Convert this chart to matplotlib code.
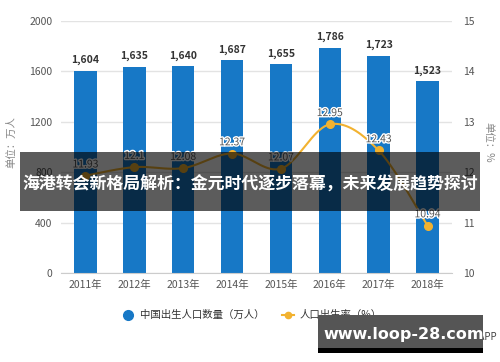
import numpy as np
import matplotlib
matplotlib.use("Agg")
import matplotlib.pyplot as plt
import matplotlib.patheffects as pe
from matplotlib.patches import Rectangle
from matplotlib.lines import Line2D

plt.rcParams['font.family'] = ['Noto Sans CJK SC', 'DejaVu Sans']

years = ['2011年', '2012年', '2013年', '2014年', '2015年', '2016年', '2017年', '2018年']
births = [1604, 1635, 1640, 1687, 1655, 1786, 1723, 1523]
rate = [11.93, 12.1, 12.08, 12.37, 12.07, 12.95, 12.43, 10.94]
rate_labels = ['11.93', '12.1', '12.08', '12.37', '12.07', '12.95', '12.43', '10.94']
left_ticks = [0, 400, 800, 1200, 1600, 2000]
right_ticks = [10, 11, 12, 13, 14, 15]
title = '海港转会新格局解析：金元时代逐步落幕，未来发展趋势探讨'
legend_bar = '中国出生人口数量（万人）'
legend_line = '人口出生率（%）'

BLUE = '#1778c6'
GOLD = '#f2b230'

fig = plt.figure(figsize=(5, 3.62), dpi=100)
ax = fig.add_axes([0.122, 0.246, 0.782, 0.696])
ax2 = ax.twinx()

x = np.arange(len(years))
ax.bar(x, births, width=0.46, color=BLUE, zorder=2)
for xi, v in zip(x, births):
    ax.annotate(f'{v:,}', (xi, v), xytext=(0, 4), textcoords='offset points',
                ha='center', va='bottom', fontsize=7.5, fontweight='bold', color='#333333')

ax.set_ylim(0, 2000)
ax.set_yticks(left_ticks)
ax.set_xlim(-0.5, len(years) - 0.5)
ax.set_xticks(x)
ax.set_xticklabels(years)
ax.grid(axis='y', color='#e3e3e3', linewidth=1, zorder=0)
ax.set_axisbelow(True)
for s in ['top', 'right', 'left']:
    ax.spines[s].set_visible(False)
ax.spines['bottom'].set_color('#cccccc')
ax.tick_params(axis='y', length=0, labelsize=7.5, labelcolor='#555555', pad=6)
ax.tick_params(axis='x', length=0, labelsize=7.5, labelcolor='#555555', pad=5)
ax.set_ylabel('单位：万人', fontsize=7.5, color='#888888', labelpad=4)
ax.yaxis.set_label_coords(-0.115, 0.52)

# smooth line (Catmull-Rom through data points)
def catmull(xs, ys, n=20):
    xs = np.asarray(xs, float); ys = np.asarray(ys, float)
    px = np.concatenate([[xs[0]], xs, [xs[-1]]])
    py = np.concatenate([[ys[0]], ys, [ys[-1]]])
    ox, oy = [], []
    t = np.linspace(0, 1, n)
    for i in range(1, len(px) - 2):
        p0, p1, p2, p3 = (px[i-1], py[i-1]), (px[i], py[i]), (px[i+1], py[i+1]), (px[i+2], py[i+2])
        for a, b, c, d, out in [(p0[0], p1[0], p2[0], p3[0], ox), (p0[1], p1[1], p2[1], p3[1], oy)]:
            out.extend(0.5 * ((2*b) + (-a + c)*t + (2*a - 5*b + 4*c - d)*t**2 + (-a + 3*b - 3*c + d)*t**3))
    return np.array(ox), np.array(oy)

sx, sy = catmull(x, rate)
ax2.plot(sx, sy, color=GOLD, linewidth=1.5, zorder=3)
ax2.plot(x, rate, 'o', color=GOLD, markersize=5.5, zorder=4)
for xi, v, lab in zip(x, rate, rate_labels):
    ax2.annotate(lab, (xi, v), xytext=(0, 4.5), textcoords='offset points', ha='center', va='bottom',
                 fontsize=7.5, color='#555555',
                 path_effects=[pe.withStroke(linewidth=2, foreground='white')], zorder=5)
ax2.set_ylim(10, 15)
ax2.set_yticks(right_ticks)
for s in ['top', 'right', 'left', 'bottom']:
    ax2.spines[s].set_visible(False)
ax2.tick_params(axis='y', length=0, labelsize=7.5, labelcolor='#555555', pad=8)
ax2.set_ylabel('单位：%', fontsize=7.5, color='#888888', rotation=-90, labelpad=12)
ax2.yaxis.set_label_coords(1.105, 0.52)

# legend
fig.add_artist(Line2D([128/500], [1 - 315/362], marker='o', color=BLUE, markersize=7,
                      linestyle='none', transform=fig.transFigure))
fig.text(140/500, 1 - 315/362, legend_bar, fontsize=7.5, color='#333333', va='center', ha='left')
fig.add_artist(Line2D([282/500, 294/500], [1 - 315/362] * 2, color=GOLD, linewidth=1.5,
                      transform=fig.transFigure))
fig.add_artist(Line2D([288/500], [1 - 315/362], marker='o', color=GOLD, markersize=4.5,
                      linestyle='none', transform=fig.transFigure))
fig.text(300/500, 1 - 315/362, legend_line, fontsize=7.5, color='#333333', va='center', ha='left')

# banner overlay
fig.add_artist(Rectangle((20/500, 1 - 211/362), 460/500, 59/362, transform=fig.transFigure,
                         facecolor='black', alpha=0.64, edgecolor='none', zorder=10))
fig.text(0.5, 1 - 185/362, title, fontsize=12.2, fontweight='bold', color='white',
         ha='center', va='center', zorder=11)

# site watermark
fig.text(497/500, 1 - 337/362, '前瞻经济学人APP', fontsize=7, color='#444444',
         ha='right', va='center', zorder=9)
fig.add_artist(Rectangle((318/500, 1 - 353/362), 165/500, 38/362, transform=fig.transFigure,
                         facecolor='#555555', edgecolor='none', zorder=10))
fig.add_artist(Rectangle((318/500, 1 - 353/362), 165/500, 5/362, transform=fig.transFigure,
                         facecolor='#000000', edgecolor='none', zorder=10))
fig.text(404/500, 1 - 334/362, 'www.loop-28.com', fontsize=11.5, fontweight='bold', color='white',
         ha='center', va='center', zorder=11, family=['DejaVu Sans'])

fig.savefig('out.png', dpi=100)
